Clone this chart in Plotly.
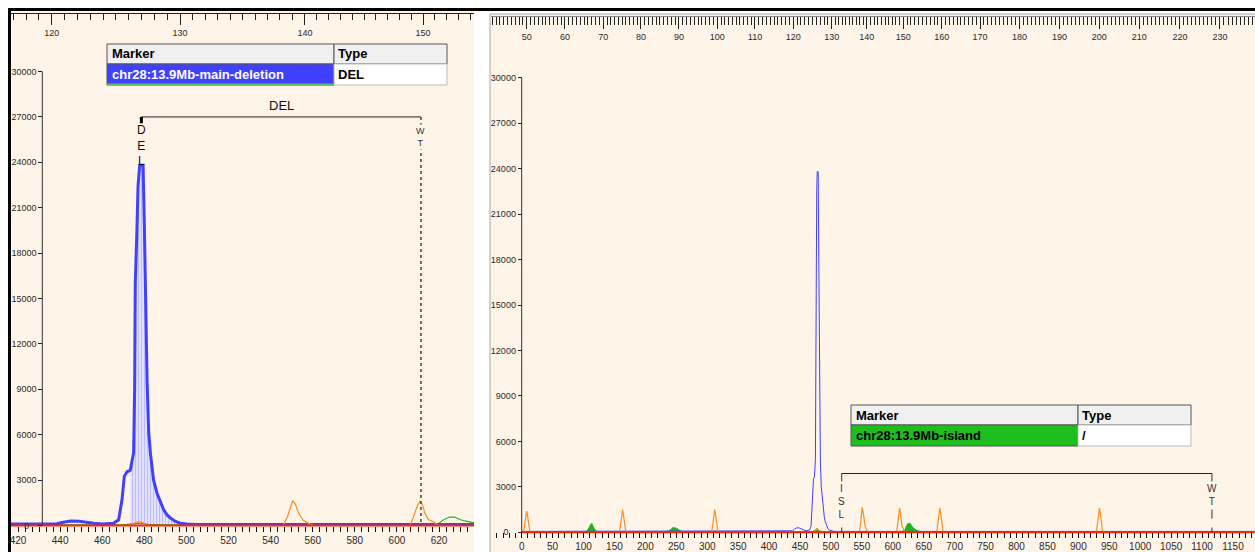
import numpy as np
import plotly.graph_objects as go

W, H = 1255, 552

# ---------------- data (scan point, RFU) ----------------
blue_scan = [0, 100, 200, 300, 400, 430, 438, 441, 445, 449, 453, 456, 460, 465.4, 467.8, 469.4,
             470.5, 471.8, 473.3, 474.9, 475.4, 475.7, 476.5, 477.0, 477.8, 479.4, 480.0, 480.5,
             481.0, 481.3, 482.1, 482.9, 484.4, 486.0, 487.6, 489.2, 490.8, 492.4, 494.8, 497.1,
             500.3, 505, 600, 800, 1000, 1185]
blue_rfu = [60, 60, 60, 60, 80, 100, 100, 200, 300, 280, 180, 150, 100, 150, 380, 1700,
            3260, 3550, 3650, 4800, 9000, 16000, 19600, 22400, 23800, 23800, 20000, 17000,
            12000, 9600, 6100, 4750, 3000, 2150, 1600, 1040, 700, 490, 270, 150,
            100, 60, 60, 60, 60, 60]

orange_scan = [0, 3, 5, 6.5, 8, 9.5, 11, 13, 16,
               158, 160, 161.5, 163, 164.5, 166, 168, 171,
               307, 309, 310.5, 312, 313.5, 315, 317, 320,
               472, 475, 477, 479, 482, 485,
               546, 548, 549.5, 550.5, 551.8, 553.2, 555.6, 558.8, 561,
               606.3, 608.5, 609.8, 611, 612.2, 613.3, 614.9, 617.3, 619.6,
               671, 673, 674.5, 676, 677.5, 679, 681, 684,
               929, 931, 932.5, 934, 935.5, 937, 939, 942, 1185]
orange_rfu = [0, 0, 500, 1200, 1400, 1100, 450, 100, 0,
              0, 500, 1200, 1500, 1150, 500, 120, 0,
              0, 500, 1200, 1500, 1150, 500, 120, 0,
              0, 150, 250, 200, 50, 0,
              0, 600, 1300, 1650, 1400, 820, 330, 90, 0,
              0, 820, 1350, 1600, 1350, 800, 400, 250, 0,
              0, 600, 1300, 1600, 1250, 550, 120, 0,
              0, 600, 1300, 1600, 1250, 550, 120, 0, 0]

green_scan = [0, 105, 108, 111, 113, 115, 118, 121, 235, 240, 245, 250, 255, 260,
              470, 475, 478, 482, 486, 615, 619.6, 622, 625, 627.5, 629.8, 632.2, 635.4,
              640, 645, 1185]
green_rfu = [40, 40, 200, 450, 580, 400, 150, 40, 40, 120, 300, 260, 100, 40,
             40, 120, 150, 80, 40, 40, 120, 360, 560, 560, 400, 300, 200,
             80, 40, 40]

red_scan = [0, 1185]
red_rfu = [0, 0]

y_ticks = [0, 3000, 6000, 9000, 12000, 15000, 18000, 21000, 24000, 27000, 30000]
left_scan_ticks = [420, 440, 460, 480, 500, 520, 540, 560, 580, 600, 620]
right_scan_ticks = list(range(0, 1151, 50))

# size ruler calibration (bp label -> scan point)
left_bp = [120, 130, 140, 150]
left_bp_scan = [436.0, 497.0, 556.3, 612.4]
right_bp = [50, 60, 70, 80, 90, 100, 110, 120, 130, 140, 150, 160, 170, 180, 190, 200, 210, 220, 230]
right_bp_scan = [8.1, 70.0, 131.9, 192.9, 254.3, 316.3, 377.2, 439.1, 501.2, 557.8, 617.0,
                 679.1, 741.0, 804.7, 869.4, 933.9, 998.5, 1064.3, 1129.0]

# marker / bins
left_marker, left_type = "chr28:13.9Mb-main-deletion", "DEL"
left_bin_labels = ["DEL", "WT"]
left_bin_scan = [478.6, 611.4]
left_bracket_rfu = 27000
right_marker, right_type = "chr28:13.9Mb-island", "/"
right_bin_labels = ["ISL", "WT"]
right_bin_scan = [517.4, 1116.0]
right_bracket_rfu = 3880

# ---------------- helpers ----------------
def px(x):
    return x / W

def py(y):
    return 1 - y / H

def bp_to_scan(bp, cal_bp, cal_scan):
    bp = np.asarray(bp, float)
    s = np.interp(bp, cal_bp, cal_scan)
    lo = bp < cal_bp[0]
    hi = bp > cal_bp[-1]
    s[lo] = cal_scan[0] + (bp[lo] - cal_bp[0]) * (cal_scan[1] - cal_scan[0]) / (cal_bp[1] - cal_bp[0])
    s[hi] = cal_scan[-1] + (bp[hi] - cal_bp[-1]) * (cal_scan[-1] - cal_scan[-2]) / (cal_bp[-1] - cal_bp[-2])
    return s

CREAM = "#FEF5E8"
BLUE = "#4040FF"
ORANGE = "#FF8C1E"
GREEN = "#1FB51F"
RED = "#FF2200"
TXT = "#2A2A2A"
FONT = "Liberation Sans"

L_XR = [416.67, 636.6]
L_YR = [-1751, 34000]
R_XR = [-49.6, 1185.6]
R_YR = [-1300, 34138]

fig = go.Figure()

# ---- left panel traces ----
bs = np.array(blue_scan)
br = np.array(blue_rfu)
m = (bs >= 472) & (bs <= 496)
fig.add_trace(go.Scatter(x=bs[m], y=br[m], mode="lines", line=dict(width=0), fill="tozeroy",
                         fillpattern=dict(shape="|", fgcolor="#8C8CFF", bgcolor="#EEEEFF", size=3, solidity=0.5),
                         xaxis="x", yaxis="y", hoverinfo="skip"))
fig.add_trace(go.Scatter(x=green_scan, y=green_rfu, mode="lines", line=dict(color=GREEN, width=1.2),
                         xaxis="x", yaxis="y"))
fig.add_trace(go.Scatter(x=blue_scan, y=blue_rfu, mode="lines", line=dict(color=BLUE, width=3),
                         xaxis="x", yaxis="y"))
fig.add_trace(go.Scatter(x=orange_scan, y=orange_rfu, mode="lines", line=dict(color=ORANGE, width=1.2),
                         xaxis="x", yaxis="y"))
fig.add_trace(go.Scatter(x=red_scan, y=red_rfu, mode="lines", line=dict(color=RED, width=2),
                         xaxis="x", yaxis="y"))
fig.add_trace(go.Scatter(x=[], y=[], xaxis="x2", yaxis="y", hoverinfo="skip"))

# ---- right panel traces ----
fig.add_trace(go.Scatter(x=green_scan, y=green_rfu, mode="lines", line=dict(color=GREEN, width=1.5),
                         fill="tozeroy", fillcolor=GREEN, xaxis="x3", yaxis="y2"))
fig.add_trace(go.Scatter(x=blue_scan, y=blue_rfu, mode="lines", line=dict(color=BLUE, width=1),
                         xaxis="x3", yaxis="y2"))
fig.add_trace(go.Scatter(x=orange_scan, y=orange_rfu, mode="lines", line=dict(color=ORANGE, width=1.2),
                         xaxis="x3", yaxis="y2"))
fig.add_trace(go.Scatter(x=red_scan, y=red_rfu, mode="lines", line=dict(color=RED, width=2),
                         xaxis="x3", yaxis="y2"))
fig.add_trace(go.Scatter(x=[], y=[], xaxis="x4", yaxis="y2", hoverinfo="skip"))

# ---- axes ----
tick_font = dict(family=FONT, size=10, color=TXT)
small_font = dict(family=FONT, size=9, color=TXT)

left_minor_bp = [b for b in range(116, 156) if b not in left_bp]
right_minor_bp = [b for b in range(40, 245) if b not in right_bp]

ytext = ["0\u00a0\u00a0\u00a0"] + [str(v) for v in y_ticks[1:]]

fig.update_layout(
    width=W, height=H, margin=dict(l=0, r=0, t=0, b=0),
    paper_bgcolor="white", plot_bgcolor="rgba(0,0,0,0)", showlegend=False,
    xaxis=dict(domain=[px(11), px(474)], range=L_XR, anchor="free", position=py(525.5),
               showgrid=False, zeroline=False, showline=False,
               tickmode="array", tickvals=left_scan_ticks, ticks="outside", ticklen=5,
               tickcolor="#111", tickfont=tick_font,
               minor=dict(tickmode="linear", tick0=420, dtick=20 / 6, ticks="outside", ticklen=5, tickcolor="#111")),
    xaxis2=dict(overlaying="x", range=L_XR, anchor="free", position=py(12.7), side="bottom",
                showgrid=False, zeroline=False, showline=True, linecolor="#222", linewidth=1,
                tickmode="array", tickvals=left_bp_scan, ticktext=[str(b) for b in left_bp],
                ticks="outside", ticklen=11, tickcolor="#222", tickfont=small_font,
                minor=dict(tickmode="array", tickvals=list(bp_to_scan(left_minor_bp, left_bp, left_bp_scan)),
                           ticks="outside", ticklen=6, tickcolor="#222")),
    yaxis=dict(domain=[0, py(11)], range=L_YR, anchor="free", position=px(42.3),
               showgrid=False, zeroline=False, showline=False,
               tickmode="array", tickvals=y_ticks, ticktext=ytext, ticks="outside", ticklen=4,
               tickcolor="#222", tickfont=small_font),
    xaxis3=dict(domain=[px(491), 1], range=R_XR, anchor="free", position=py(532.3),
                showgrid=False, zeroline=False, showline=False,
                tickmode="array", tickvals=right_scan_ticks, ticks="outside", ticklen=5,
                tickcolor="#111", tickfont=tick_font,
                minor=dict(tickmode="linear", tick0=0, dtick=10, ticks="outside", ticklen=5, tickcolor="#111")),
    xaxis4=dict(overlaying="x3", range=R_XR, anchor="free", position=py(16), side="bottom",
                showgrid=False, zeroline=False, showline=True, linecolor="#888", linewidth=1,
                tickmode="array", tickvals=right_bp_scan, ticktext=[str(b) for b in right_bp],
                ticks="outside", ticklen=12, tickcolor="#222", tickfont=small_font,
                minor=dict(tickmode="array", tickvals=list(bp_to_scan(right_minor_bp, right_bp, right_bp_scan)),
                           ticks="outside", ticklen=8, tickcolor="#222")),
    yaxis2=dict(domain=[0, py(15)], range=R_YR, anchor="free", position=px(521.7),
                showgrid=False, zeroline=False, showline=False,
                tickmode="array", tickvals=y_ticks, ticktext=ytext, ticks="outside", ticklen=4,
                tickcolor="#222", tickfont=small_font),
)

shapes = []
# backgrounds and frames
shapes.append(dict(type="rect", xref="paper", yref="paper", x0=px(11), x1=px(474), y0=0, y1=py(11),
                   fillcolor=CREAM, line=dict(width=0), layer="below"))
shapes.append(dict(type="rect", xref="paper", yref="paper", x0=px(490), x1=px(1256), y0=-0.01, y1=py(14),
                   fillcolor=CREAM, line=dict(color="#A8A8A8", width=1), layer="below"))
shapes.append(dict(type="rect", xref="paper", yref="paper", x0=px(8), x1=1, y0=py(11), y1=py(8),
                   fillcolor="black", line=dict(width=0), layer="above"))
shapes.append(dict(type="rect", xref="paper", yref="paper", x0=px(8), x1=px(11), y0=0, y1=py(8),
                   fillcolor="black", line=dict(width=0), layer="above"))
# y-axis lines
shapes.append(dict(type="line", xref="paper", yref="y", x0=px(42.3), x1=px(42.3), y0=0, y1=30000,
                   line=dict(color="#333", width=1), layer="above"))
shapes.append(dict(type="line", xref="paper", yref="y2", x0=px(521.7), x1=px(521.7), y0=0, y1=30000,
                   line=dict(color="#333", width=1), layer="above"))

# left bracket
shapes.append(dict(type="line", xref="x", yref="y", x0=left_bin_scan[0], x1=left_bin_scan[1],
                   y0=left_bracket_rfu, y1=left_bracket_rfu, line=dict(color="#222", width=1)))
shapes.append(dict(type="line", xref="x", yref="y", x0=left_bin_scan[0], x1=left_bin_scan[0],
                   y0=left_bracket_rfu, y1=left_bracket_rfu - 420, line=dict(color="black", width=3)))
shapes.append(dict(type="line", xref="x", yref="y", x0=left_bin_scan[1], x1=left_bin_scan[1],
                   y0=left_bracket_rfu, y1=0, line=dict(color="#444", width=1.5, dash="dot")))
# right bracket
shapes.append(dict(type="line", xref="x3", yref="y2", x0=right_bin_scan[0], x1=right_bin_scan[1],
                   y0=right_bracket_rfu, y1=right_bracket_rfu, line=dict(color="#222", width=1)))
for s in right_bin_scan:
    shapes.append(dict(type="line", xref="x3", yref="y2", x0=s, x1=s, y0=right_bracket_rfu, y1=0,
                       line=dict(color="#333", width=1, dash="dash")))

# tables
def table(x0, xm, x1, y0, ym, y1, cell_color):
    out = []
    out.append(dict(type="rect", xref="paper", yref="paper", x0=px(x0), x1=px(xm), y0=py(ym), y1=py(y0),
                    fillcolor="#F0F0F0", line=dict(color="#555", width=1)))
    out.append(dict(type="rect", xref="paper", yref="paper", x0=px(xm), x1=px(x1), y0=py(ym), y1=py(y0),
                    fillcolor="#F0F0F0", line=dict(color="#555", width=1)))
    out.append(dict(type="rect", xref="paper", yref="paper", x0=px(x0), x1=px(xm), y0=py(y1), y1=py(ym),
                    fillcolor=cell_color, line=dict(color="#555", width=1)))
    out.append(dict(type="rect", xref="paper", yref="paper", x0=px(xm), x1=px(x1), y0=py(y1), y1=py(ym),
                    fillcolor="white", line=dict(color="#BBB", width=1)))
    return out

shapes += table(107, 334, 447, 44, 64, 85, BLUE)
shapes.append(dict(type="line", xref="paper", yref="paper", x0=px(107), x1=px(334), y0=py(84.5), y1=py(84.5),
                   line=dict(color="#5CC05C", width=2)))
shapes += table(851, 1078, 1191, 405, 425, 446, "#1EBE1E")
fig.update_layout(shapes=shapes)

ann = []

def txt(x, y, t, color="black", size=13, bold=True, xanchor="left"):
    ann.append(dict(xref="paper", yref="paper", x=px(x), y=py(y), text=("<b>%s</b>" % t) if bold else t,
                    showarrow=False, xanchor=xanchor, yanchor="middle",
                    font=dict(family=FONT, size=size, color=color)))

txt(110, 54, "Marker")
txt(336, 54, "Type")
txt(110, 74.5, left_marker, color="white")
txt(336, 74.5, left_type)
txt(854, 415, "Marker")
txt(1080, 415, "Type")
txt(854, 435.5, right_marker)
txt(1080, 435.5, right_type)

# bracket labels
ann.append(dict(xref="x", yref="y", x=(left_bin_scan[0] + left_bin_scan[1]) / 2, y=left_bracket_rfu + 100,
                text=left_bin_labels[0], showarrow=False, yanchor="bottom",
                font=dict(family=FONT, size=13, color="#111")))
ann.append(dict(xref="x", yref="y", x=left_bin_scan[0], y=left_bracket_rfu - 300,
                text="<br>".join(left_bin_labels[0]), showarrow=False, yanchor="top",
                font=dict(family=FONT, size=12, color="#111"), bgcolor="rgba(0,0,0,0)"))
ann.append(dict(xref="x", yref="y", x=left_bin_scan[1], y=left_bracket_rfu - 500,
                text="<br>".join(left_bin_labels[1]), showarrow=False, yanchor="top",
                font=dict(family=FONT, size=9, color="#333"), bgcolor=CREAM))
ann.append(dict(xref="x3", yref="y2", x=right_bin_scan[0], y=right_bracket_rfu - 500,
                text="<br>".join(right_bin_labels[0]), showarrow=False, yanchor="top",
                font=dict(family=FONT, size=10, color="#333"), bgcolor=CREAM))
ann.append(dict(xref="x3", yref="y2", x=right_bin_scan[1], y=right_bracket_rfu - 500,
                text="<br>".join(right_bin_labels[1]), showarrow=False, yanchor="top",
                font=dict(family=FONT, size=10, color="#333"), bgcolor=CREAM))
fig.update_layout(annotations=ann)

fig.write_html("out.html", config={"displayModeBar": False},
               post_script="document.body.style.margin='0';document.body.style.overflow='hidden';")
